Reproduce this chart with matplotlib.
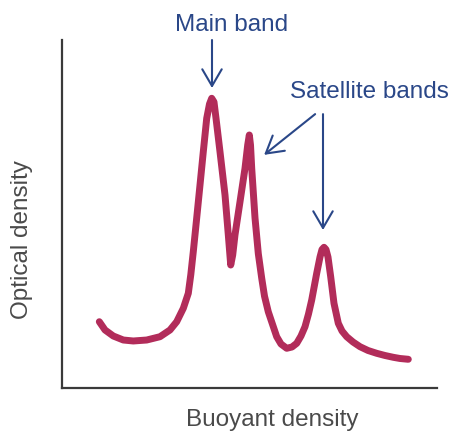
import matplotlib
matplotlib.use('Agg')
import matplotlib.pyplot as plt

plt.rcParams['font.family'] = ['Liberation Sans', 'DejaVu Sans']

# Density profile (arbitrary units, 0-100 on both axes)
buoyant = [9.95, 11.47, 13.68, 16.35, 19.01, 22.59, 26.13, 28.8, 30.59, 32.35,
           33.68, 34.35, 35.01, 35.92, 36.8, 37.68, 38.59, 39.33, 39.92, 40.53,
           41.07, 42.13, 43.47, 44.35, 44.99, 45.52, 46.13, 47.47, 48.8, 49.52,
           49.95, 50.27, 50.59, 51.47, 52.35, 53.25, 54.0, 55.01, 57.25, 58.4,
           59.92, 61.33, 62.59, 63.73, 64.8, 65.73, 66.59, 67.92, 68.8, 69.33,
           69.87, 70.4, 70.93, 71.65, 72.53, 73.68, 74.67, 75.92, 77.6, 79.47,
           81.6, 83.92, 86.13, 88.35, 90.13, 92.35]
optical = [19.05, 16.67, 14.94, 13.79, 13.51, 13.79, 14.74, 16.67, 19.05, 22.9,
           27.21, 32.6, 39.17, 48.85, 58.33, 67.9, 77.5, 81.6, 83.25, 82.2,
           77.5, 67.9, 55.46, 43.97, 35.34, 38.2, 43.97, 53.53, 63.13, 69.83,
           72.7, 69.83, 63.13, 48.85, 38.6, 31.6, 26.4, 21.9, 14.74, 12.64,
           11.41, 11.78, 12.84, 14.94, 17.61, 21.26, 25.29, 32.96, 37.64, 39.8,
           40.43, 39.8, 37.64, 31.98, 24.34, 18.59, 16.38, 14.74, 13.22, 11.87,
           10.78, 9.97, 9.34, 8.82, 8.48, 8.25]

curve_color = '#B22C5A'
note_color = '#2A4788'
label_color = '#4A4A4A'

fig = plt.figure(figsize=(4.54, 4.33), dpi=100)
ax = fig.add_axes([62 / 454, 45 / 433, 375 / 454, 348 / 433])
ax.plot(buoyant, optical, color=curve_color, lw=5, solid_capstyle='round',
        solid_joinstyle='round', clip_on=False)
ax.set_xlim(0, 100)
ax.set_ylim(0, 100)
ax.set_xticks([])
ax.set_yticks([])
for side in ['top', 'right']:
    ax.spines[side].set_visible(False)
for side in ['left', 'bottom']:
    ax.spines[side].set_color('#3A3A3A')
    ax.spines[side].set_linewidth(1.6)

arrow = dict(arrowstyle='->,head_length=1.2,head_width=0.7', color=note_color,
             lw=1.5, shrinkA=0, shrinkB=0)
ax.annotate('', xy=(40.0, 86.2), xytext=(40.0, 100.0), arrowprops=arrow,
            annotation_clip=False)
ax.annotate('', xy=(53.9, 67.0), xytext=(67.5, 78.7), arrowprops=arrow,
            annotation_clip=False)
ax.annotate('', xy=(69.6, 45.4), xytext=(69.6, 78.7), arrowprops=arrow,
            annotation_clip=False)

ax.text(45.3, 104.3, 'Main band', color=note_color, fontsize=17.5,
        ha='center', va='center', clip_on=False)
ax.text(82.1, 85.1, 'Satellite bands', color=note_color, fontsize=17.5,
        ha='center', va='center', clip_on=False)

fig.text(22 / 454, 1 - 240 / 433, 'Optical density', color=label_color,
         fontsize=17.5, rotation=90, ha='center', va='center')
fig.text(272 / 454, 1 - 420 / 433, 'Buoyant density', color=label_color,
         fontsize=17.5, ha='center', va='center')

fig.savefig('out.png', dpi=100, facecolor='white')
